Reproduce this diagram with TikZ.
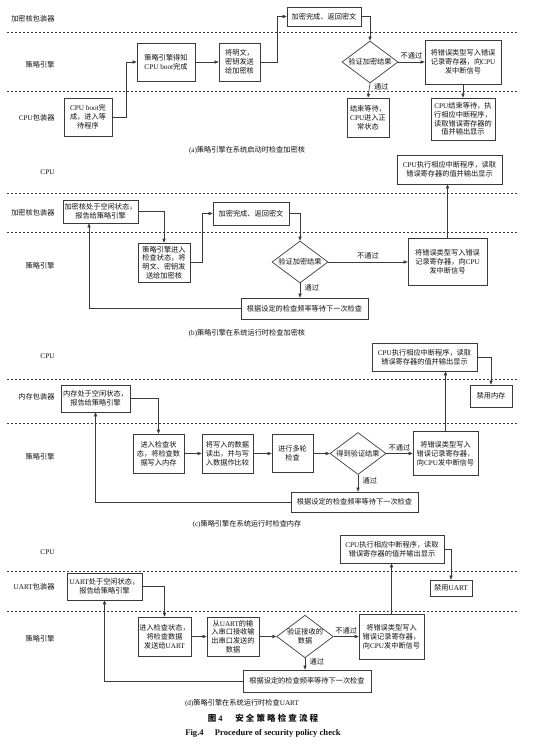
\documentclass[tikz,border=0pt]{standalone}
\usepackage{fontspec}
\setmainfont{Noto Sans CJK SC}
\newfontfamily\latin{Liberation Serif}
\usepackage{tikz}
\usetikzlibrary{arrows.meta,positioning,shapes.geometric}
\definecolor{LineGray}{HTML}{3A3A3A}
\definecolor{TextGray}{HTML}{111111}
\newcommand{\en}[1]{{\latin #1}}
\newcommand{\boxfont}{\fontsize{7.2}{8.8}\selectfont}

\begin{document}
\begin{tikzpicture}[x=1pt, y=-1pt,
  box/.style={draw=LineGray, line width=0.7pt, inner sep=1pt, align=center,
              font=\boxfont, text=TextGray},
  decide/.style={draw=LineGray, line width=0.7pt, shape=diamond, aspect=1.33,
                 inner sep=0pt, minimum width=56pt, minimum height=42pt,
                 align=center, font=\boxfont, text=TextGray},
  lane/.style={font=\boxfont, text=TextGray, anchor=east},
  sep/.style={draw=LineGray, line width=0.5pt, dash pattern=on 2pt off 2pt},
  flow/.style={->, draw=LineGray, line width=0.6pt},
  tag/.style={font=\boxfont, text=TextGray},
  caption/.style={font=\boxfont, text=TextGray},
  >={Triangle[length=4pt, width=3.2pt]}
]
  \useasboundingbox (0,0) rectangle (536,755);

  % (a) start-up check of the crypto core
  \node[lane] (aL1) at (58,19)  {加密核包装器};
  \node[lane] (aL2) at (58,65)  {策略引擎};
  \node[lane] (aL3) at (58,118) {\en{CPU}包装器};
  \draw[sep] (7,32) -- (518,32);
  \draw[sep] (7,91) -- (518,91);

  \node[box, minimum width=48pt, minimum height=38pt] (aboot) at (88,117)
    {\en{CPU boot}完\\成，进入等\\待程序};
  \node[box, minimum width=58pt, minimum height=38pt] (aknow) at (166,62)
    {策略引擎得知\\\en{CPU boot}完成};
  \node[box, minimum width=41pt, minimum height=38pt] (asend) at (239.5,62)
    {将明文，\\密钥发送\\给加密核};
  \node[box, minimum width=74pt, minimum height=19pt] (aenc) at (324,16.5)
    {加密完成、返回密文};
  \node[decide] (acheck) at (370,62) {验证加密结果};
  \node[box, minimum width=76pt, minimum height=44pt] (aerr) at (463,62)
    {将错误类型写入错误\\记录寄存器，向\en{CPU}\\发中断信号};
  \node[box, minimum width=42pt, minimum height=39pt] (anormal) at (368,117.5)
    {结束等待，\\\en{CPU}进入正\\常状态};
  \node[box, minimum width=64pt, minimum height=42pt] (acpu) at (463,119)
    {\en{CPU}结束等待，执\\行相应中断程序，\\读取错误寄存器的\\值并输出显示};

  \draw[flow] (aboot.east) -- ++(14,0) |- (aknow.west);
  \draw[flow] (aknow.east) -- (asend.west);
  \draw[flow] (asend.east) -- ++(17,0) |- (aenc.west);
  \draw[flow] (aenc.east) -| (acheck.north);
  \draw[flow] (acheck.east) -- node[tag, above=-1pt] {不通过} (aerr.west);
  \draw[flow] (acheck.south) -- node[tag, right=1pt, pos=0.25] {通过} (anormal.north);
  \draw[flow] (aerr.south) -- (acpu.north);

  \node[caption] (acap) at (247,150) {\en{(a)}策略引擎在系统启动时检查加密核};

  % (b) run-time check of the crypto core
  \node[lane] (bL1) at (58,172) {\en{CPU}};
  \node[lane] (bL2) at (58,213) {加密核包装器};
  \node[lane] (bL3) at (58,266) {策略引擎};
  \draw[sep] (7,193) -- (518,193);
  \draw[sep] (7,232) -- (518,232);

  \node[box, minimum width=75pt, minimum height=23pt] (bidle) at (100.5,211.5)
    {加密核处于空闲状态，\\报告给策略引擎};
  \node[box, minimum width=52pt, minimum height=39pt] (benter) at (164,262.5)
    {策略引擎进入\\检查状态，将\\明文、密钥发\\送给加密核};
  \node[box, minimum width=76pt, minimum height=23pt] (benc) at (251,213.5)
    {加密完成、返回密文};
  \node[decide] (bcheck) at (300,262) {验证加密结果};
  \node[box, minimum width=79pt, minimum height=47pt] (berr) at (447.5,262)
    {将错误类型写入错误\\记录寄存器，向\en{CPU}\\发中断信号};
  \node[box, minimum width=105pt, minimum height=29pt] (bcpu) at (449.5,169.5)
    {\en{CPU}执行相应中断程序，读取\\错误寄存器的值并输出显示};
  \node[box, minimum width=127pt, minimum height=21pt] (bwait) at (304.5,308.5)
    {根据设定的检查频率等待下一次检查};

  \draw[flow] (bidle.east) -| (benter.north);
  \draw[flow] (benter.east) -- ++(12,0) |- (benc.west);
  \draw[flow] (benc.east) -| (bcheck.north);
  \draw[flow] (bcheck.east) -- node[tag, above=-1pt] {不通过} (berr.west);
  \draw[flow] (bcheck.south) -- node[tag, right=1pt, pos=0.3] {通过} (bcheck.south |- bwait.north);
  \draw[flow] (berr.north) -- (berr.north |- bcpu.south);
  \draw[flow] (bwait.west) -| ([xshift=-11.5pt]bidle.south);

  \node[caption] (bcap) at (247,333) {\en{(b)}策略引擎在系统运行时检查加密核};

  % (c) run-time check of the memory
  \node[lane] (cL1) at (58,356) {\en{CPU}};
  \node[lane] (cL2) at (58,397) {内存包装器};
  \node[lane] (cL3) at (58,457) {策略引擎};
  \draw[sep] (7,379) -- (518,379);
  \draw[sep] (7,423) -- (518,423);

  \node[box, minimum width=105pt, minimum height=28pt] (ccpu) at (424.5,357)
    {\en{CPU}执行相应中断程序，读取\\错误寄存器的值并输出显示};
  \node[box, minimum width=42pt, minimum height=22pt] (coff) at (491,396) {禁用内存};
  \node[box, minimum width=69pt, minimum height=27pt] (cidle) at (95.5,398.5)
    {内存处于空闲状态，\\报告给策略引擎};
  \node[box, minimum width=51pt, minimum height=39pt] (center) at (158.5,453.5)
    {进入检查状\\态，将检查数\\据写入内存};
  \node[box, minimum width=51pt, minimum height=39pt] (ccmp) at (227.5,453.5)
    {将写入的数据\\读出，并与写\\入数据作比较};
  \node[box, minimum width=41pt, minimum height=38pt] (cmulti) at (292.5,453.5)
    {进行多轮\\检查};
  \node[decide] (ccheck) at (358,453.5) {得到验证结果};
  \node[box, minimum width=65pt, minimum height=44pt] (cerr) at (445.5,453.5)
    {将错误类型写入\\错误记录寄存器，\\向\en{CPU}发中断信号};
  \node[box, minimum width=127pt, minimum height=20pt] (cwait) at (354.5,502)
    {根据设定的检查频率等待下一次检查};

  \draw[flow] (ccpu.east) -| (coff.north);
  \draw[flow] (cidle.east) -| (center.north);
  \draw[flow] (center.east) -- (ccmp.west);
  \draw[flow] (ccmp.east) -- (cmulti.west);
  \draw[flow] (cmulti.east) -- (ccheck.west);
  \draw[flow] (ccheck.east) -- node[tag, above=-1pt] {不通过} (cerr.west);
  \draw[flow] (ccheck.south) -- node[tag, right=1pt, pos=0.35] {通过} (ccheck.south |- cwait.north);
  \draw[flow] (cerr.north) -- (cerr.north |- ccpu.south);
  \draw[flow] (cwait.west) -| (cidle.south);

  \node[caption] (ccap) at (247,524) {\en{(c)}策略引擎在系统运行时检查内存};

  % (d) run-time check of the UART
  \node[lane] (dL1) at (58,552) {\en{CPU}};
  \node[lane] (dL2) at (58,587) {\en{UART}包装器};
  \node[lane] (dL3) at (58,639) {策略引擎};
  \draw[sep] (7,571) -- (518,571);
  \draw[sep] (7,611) -- (518,611);

  \node[box, minimum width=104pt, minimum height=28pt] (dcpu) at (392,549)
    {\en{CPU}执行相应中断程序，读取\\错误寄存器的值并输出显示};
  \node[box, minimum width=42pt, minimum height=16pt] (doff) at (451,588) {禁用\en{UART}};
  \node[box, minimum width=75pt, minimum height=27pt] (didle) at (104.5,586.5)
    {\en{UART}处于空闲状态，\\报告给策略引擎};
  \node[box, minimum width=53pt, minimum height=39pt] (denter) at (164.5,636.5)
    {进入检查状态，\\将检查数据\\发送给\en{UART}};
  \node[box, minimum width=52pt, minimum height=39pt] (drecv) at (233,636.5)
    {从\en{UART}的输\\入串口接收输\\出串口发送的\\数据};
  \node[decide, minimum height=41pt] (dcheck) at (305,636.5) {验证接收的\\数据};
  \node[box, minimum width=65pt, minimum height=45pt] (derr) at (391.5,636.5)
    {将错误类型写入\\错误记录寄存器，\\向\en{CPU}发中断信号};
  \node[box, minimum width=128pt, minimum height=22pt] (dwait) at (307,681)
    {根据设定的检查频率等待下一次检查};

  \draw[flow] (dcpu.east) -| (doff.north);
  \draw[flow] (didle.east) -| (denter.north);
  \draw[flow] (denter.east) -- (drecv.west);
  \draw[flow] (drecv.east) -- (dcheck.west);
  \draw[flow] (dcheck.east) -- node[tag, above=-1pt] {不通过} (derr.west);
  \draw[flow] (dcheck.south) -- node[tag, right=1pt, pos=0.35] {通过} (dcheck.south |- dwait.north);
  \draw[flow] (derr.north) -- (derr.north |- dcpu.south);
  \draw[flow] (dwait.west) -| (didle.south);

  \node[caption] (dcap) at (242,703) {\en{(d)}策略引擎在系统运行时检查\en{UART}};

  % figure caption
  \node[font=\fontsize{8.5}{10}\selectfont\bfseries, text=TextGray] (figzh) at (263,718)
    {\addfontfeatures{LetterSpace=25}图\en{\textbf{4}}\hspace{1.5em}安全策略检查流程};
  \node[font=\fontsize{8.6}{10}\selectfont, text=TextGray] (figen) at (263,733)
    {\en{\textbf{Fig.4\hspace{1.3em}Procedure of security policy check}}};
\end{tikzpicture}
\end{document}
